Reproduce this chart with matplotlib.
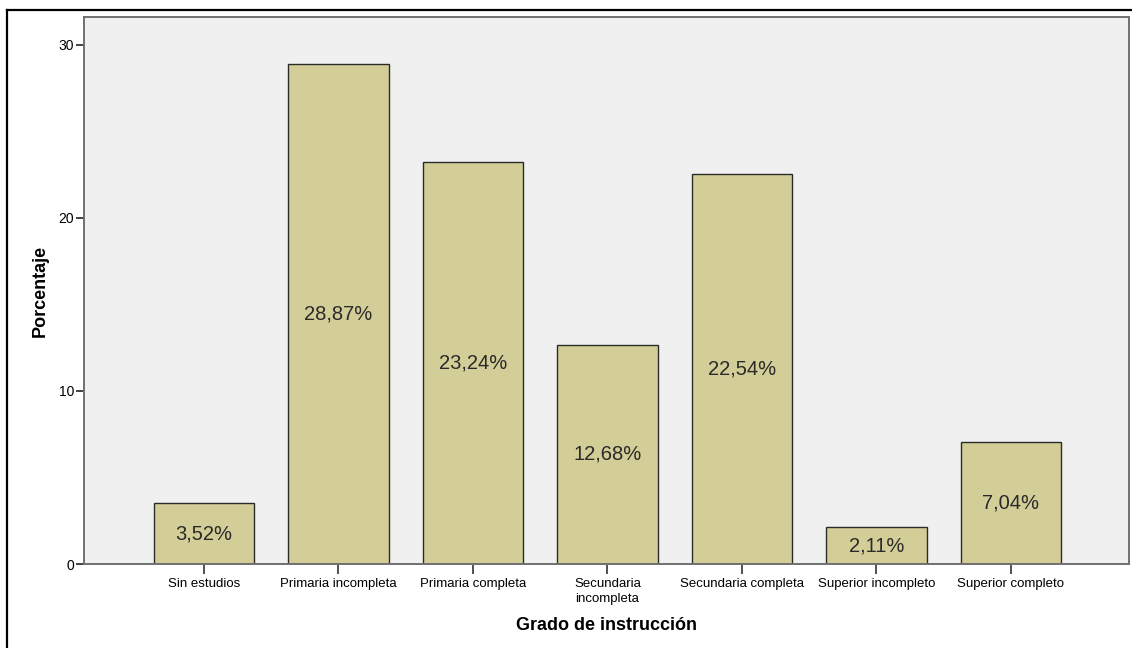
import matplotlib.pyplot as plt
from matplotlib.lines import Line2D

plt.rcParams['font.family'] = ['Liberation Sans', 'DejaVu Sans']

categorias = ['Sin estudios', 'Primaria incompleta', 'Primaria completa',
              'Secundaria\nincompleta', 'Secundaria completa',
              'Superior incompleto', 'Superior completo']
porcentajes = [3.52, 28.87, 23.24, 12.68, 22.54, 2.11, 7.04]
yticks = [0, 10, 20, 30]

fig = plt.figure(figsize=(11.32, 6.48), dpi=100)
ax = fig.add_axes([0.0742, 0.1296, 0.9231, 0.8442])
ax.set_facecolor('#F0F0F0')

x = list(range(len(categorias)))
ax.bar(x, porcentajes, width=0.745, color='#D3CE97', edgecolor='#2b2b2b',
       linewidth=1.0, zorder=2)

# etiquetas de porcentaje centradas en cada barra
for xi, v in zip(x, porcentajes):
    txt = f'{v:.2f}'.replace('.', ',') + '%'
    ax.text(xi, v / 2, txt, ha='center', va='center', fontsize=14.5,
            color='#2a2a2a', zorder=3)

ax.set_xlim(-0.892, 6.877)
ax.set_ylim(0, 31.6)
ax.set_yticks(yticks)
ax.set_xticks(x)
ax.set_xticklabels(categorias, fontsize=9.5, linespacing=1.3)
ax.tick_params(axis='y', labelsize=10, length=6, width=1.2, pad=1,
               color='#222222')
ax.tick_params(axis='x', length=7, width=1.2, pad=3, color='#333333')

for s in ax.spines.values():
    s.set_color('#707070')
    s.set_linewidth(1.4)

ax.set_xlabel('Grado de instrucción', fontsize=13, fontweight='bold', labelpad=9)
ax.set_ylabel('Porcentaje', fontsize=13, fontweight='bold', labelpad=7)

# marco exterior (solo lados izquierdo y superior visibles)
fig.add_artist(Line2D([7 / 1132, 7 / 1132], [0, 1 - 10 / 648],
                      transform=fig.transFigure, color='black', linewidth=1.6))
fig.add_artist(Line2D([7 / 1132, 1], [1 - 10 / 648, 1 - 10 / 648],
                      transform=fig.transFigure, color='black', linewidth=1.6))

fig.savefig('out.png', dpi=100)
